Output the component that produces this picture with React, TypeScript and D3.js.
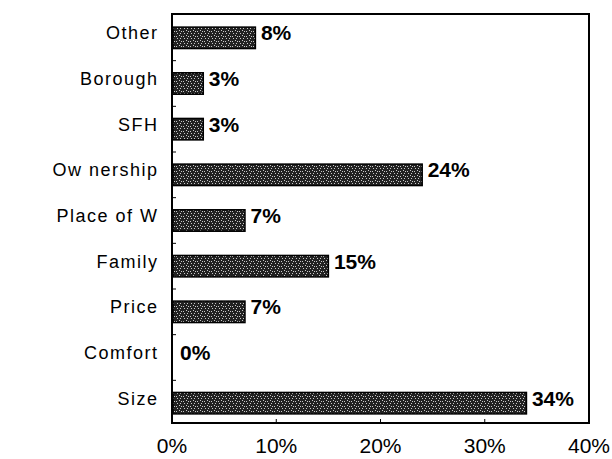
import React, { useEffect, useRef } from 'react';
import * as d3 from 'd3';

const categories = ['Other', 'Borough', 'SFH', 'Ow nership', 'Place of W', 'Family', 'Price', 'Comfort', 'Size'];
const values = [8, 3, 3, 24, 7, 15, 7, 0, 34];
const xTicks = [0, 10, 20, 30, 40];

export default function App() {
    const ref = useRef<SVGSVGElement>(null);

    useEffect(() => {
        if (!ref.current) return;
        const svg = d3.select(ref.current);
        svg.selectAll('*').remove();

        const width = 612;
        const height = 459;
        const plot = { left: 172, right: 589, top: 14, bottom: 423 };
        const font = '"Liberation Sans", Arial, sans-serif';

        svg.attr('width', width).attr('height', height);
        svg.append('rect').attr('width', width).attr('height', height).attr('fill', '#fff');

        // speckled texture for bars
        const defs = svg.append('defs');
        const pat = defs.append('pattern')
            .attr('id', 'speckle')
            .attr('width', 7).attr('height', 5)
            .attr('patternUnits', 'userSpaceOnUse');
        pat.append('rect').attr('width', 7).attr('height', 5).attr('fill', '#222');
        [[1, 1], [4, 0], [5, 3], [2, 3], [6, 1]].forEach(([px, py]) => {
            pat.append('rect').attr('x', px).attr('y', py).attr('width', 1).attr('height', 1).attr('fill', '#c8c8c8');
        });

        const x = d3.scaleLinear().domain([0, 40]).range([plot.left, plot.right]);
        const y = d3.scaleBand().domain(categories).range([15, 426]).paddingInner(0.53).paddingOuter(0.265);

        // plot frame
        svg.append('rect')
            .attr('x', plot.left).attr('y', plot.top)
            .attr('width', plot.right - plot.left).attr('height', plot.bottom - plot.top)
            .attr('fill', 'none').attr('stroke', '#000').attr('stroke-width', 2);

        // y ticks at band boundaries (inside)
        const step = y.step();
        categories.slice(1).forEach((_, i) => {
            const yy = 15 + step * (i + 1);
            svg.append('line').attr('x1', plot.left).attr('x2', plot.left + 4)
                .attr('y1', yy).attr('y2', yy).attr('stroke', '#000');
        });

        // x ticks
        xTicks.forEach(t => {
            svg.append('line').attr('x1', x(t)).attr('x2', x(t))
                .attr('y1', plot.bottom).attr('y2', plot.bottom - 4).attr('stroke', '#000');
            svg.append('text')
                .attr('x', x(t)).attr('y', 453)
                .attr('text-anchor', 'middle')
                .attr('font-family', font).attr('font-size', 21)
                .text(`${t}%`);
        });

        const data = categories.map((c, i) => ({ c, v: values[i] }));
        const mid = (c: string) => y(c)! + y.bandwidth() / 2 - 5;

        svg.selectAll('rect.bar')
            .data(data.filter(d => d.v > 0))
            .enter()
            .append('rect')
            .attr('class', 'bar')
            .attr('x', plot.left + 1)
            .attr('y', d => y(d.c)!)
            .attr('width', d => x(d.v) - plot.left - 1)
            .attr('height', y.bandwidth())
            .attr('fill', 'url(#speckle)')
            .attr('stroke', '#000').attr('stroke-width', 1.5);

        // category labels
        svg.selectAll('text.cat')
            .data(data)
            .enter()
            .append('text')
            .attr('class', 'cat')
            .attr('x', 158.5)
            .attr('y', d => mid(d.c) + 0.358 * 18)
            .attr('text-anchor', 'end')
            .attr('font-family', font).attr('font-size', 18)
            .attr('letter-spacing', 1.5)
            .text(d => d.c);

        // value labels
        svg.selectAll('text.val')
            .data(data)
            .enter()
            .append('text')
            .attr('class', 'val')
            .attr('x', d => x(d.v) + (d.v > 0 ? 5.5 : 8))
            .attr('y', d => mid(d.c) + 0.358 * 21)
            .attr('font-family', font).attr('font-size', 21)
            .attr('font-weight', 'bold')
            .text(d => `${d.v}%`);
    }, []);

    return <svg ref={ref} style={{ display: 'block', position: 'absolute', left: 0, top: 0 }} />;
}
